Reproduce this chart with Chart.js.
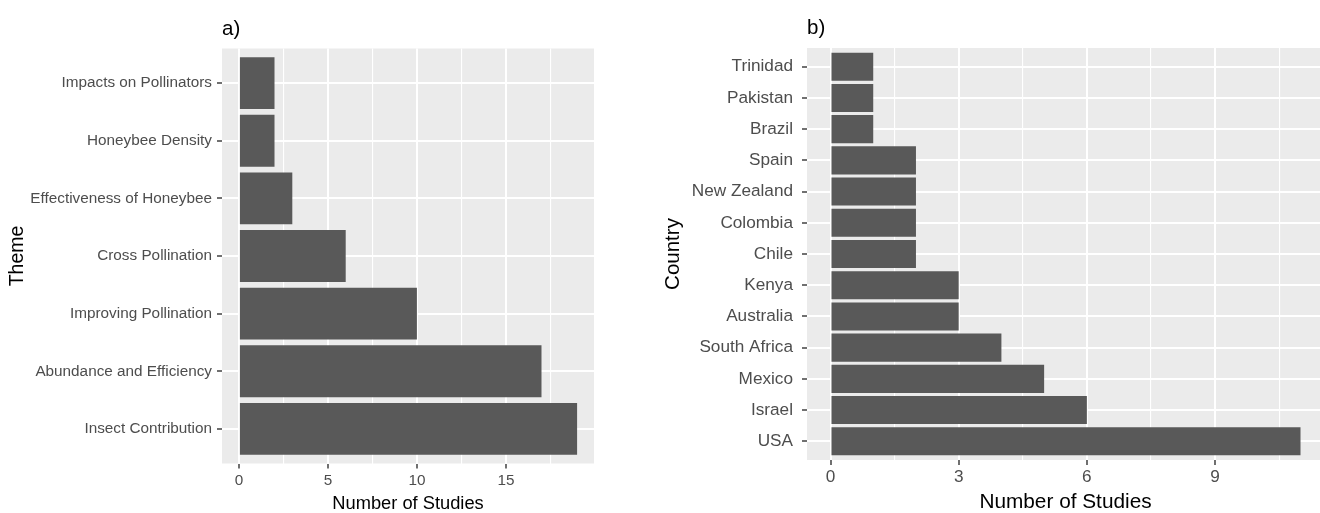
<!DOCTYPE html>
<html>
<head>
<meta charset="utf-8">
<script src="https://cdn.jsdelivr.net/npm/chart.js@4.4.1/dist/chart.umd.min.js"></script>
<style>
  html, body { margin: 0; padding: 0; background: #ffffff; overflow: hidden; width: 1320px; height: 513px; }
  .panel { position: absolute; top: 0; }
  #wrapA { left: 0; width: 600px; height: 513px; }
  #wrapB { left: 600px; width: 740px; height: 513px; }
</style>
</head>
<body>
<div id="wrapA" class="panel"><canvas id="chartA" width="600" height="513"></canvas></div>
<div id="wrapB" class="panel"><canvas id="chartB" width="740" height="513"></canvas></div>
<script>
// a) studies per research theme (top to bottom)
const themeLabels = [
  'Impacts on Pollinators',
  'Honeybee Density',
  'Effectiveness of Honeybee',
  'Cross Pollination',
  'Improving Pollination',
  'Abundance and Efficiency',
  'Insect Contribution'
];
const themeCounts = [2, 2, 3, 6, 10, 17, 19];
const themeGridValues = [0, 2.5, 5, 7.5, 10, 12.5, 15, 17.5];
const themeLabelStep = 5;

// b) studies per country (top to bottom)
const countryLabels = [
  'Trinidad', 'Pakistan', 'Brazil', 'Spain', 'New Zealand', 'Colombia', 'Chile',
  'Kenya', 'Australia', 'South Africa', 'Mexico', 'Israel', 'USA'
];
const countryCounts = [1, 1, 1, 2, 2, 2, 2, 3, 3, 4, 5, 6, 11];
const countryGridValues = [0, 1.5, 3, 4.5, 6, 7.5, 9, 10.5];
const countryLabelStep = 3;

const FONT = "'Liberation Sans', Arial, sans-serif";
const PANEL_BG = '#EBEBEB';
const BAR_FILL = '#595959';
const TICK_TEXT = '#4D4D4D';
const TICK_MARK = '#333333';

// grey panel background behind the grid
const panelBackground = {
  id: 'panelBackground',
  beforeDraw(chart) {
    const { ctx, chartArea: a } = chart;
    ctx.save();
    ctx.fillStyle = PANEL_BG;
    ctx.fillRect(a.left, a.top, a.right - a.left, a.bottom - a.top);
    ctx.restore();
  }
};

// panel tag ("a)", "b)") drawn above the top-left corner of the plot area
const panelTag = {
  id: 'panelTag',
  afterDraw(chart, args, opts) {
    const { ctx, chartArea: a } = chart;
    ctx.save();
    ctx.font = opts.size + 'px ' + FONT;
    ctx.fillStyle = '#000000';
    ctx.textBaseline = 'alphabetic';
    ctx.textAlign = 'left';
    ctx.fillText(opts.text, a.left, a.top - opts.gap);
    ctx.restore();
  }
};

function makePanel(canvasId, p) {
  const maxVal = Math.max(...p.values);
  const points = p.values.map((v, i) => ({ x: v, y: i }));
  return new Chart(document.getElementById(canvasId), {
    type: 'bar',
    data: {
      datasets: [{
        data: points,
        backgroundColor: BAR_FILL,
        borderWidth: 0,
        categoryPercentage: 1,
        barPercentage: 0.9
      }]
    },
    plugins: [panelBackground, panelTag],
    options: {
      indexAxis: 'y',
      responsive: false,
      animation: false,
      events: [],
      layout: { padding: { top: p.top, right: p.rightPad, bottom: 0, left: 0 } },
      plugins: {
        legend: { display: false },
        tooltip: { enabled: false },
        panelTag: { text: p.tag, size: p.tagSize, gap: p.tagGap }
      },
      scales: {
        x: {
          type: 'linear',
          offset: false,
          min: -0.05 * maxVal,
          max: 1.05 * maxVal,
          afterBuildTicks: s => { s.ticks = p.gridValues.map(v => ({ value: v })); },
          afterFit: s => { s.height = p.xAxisHeight; },
          border: { display: false },
          grid: {
            offset: false,
            color: '#FFFFFF',
            lineWidth: c => (c.tick && c.tick.value % p.labelStep === 0 ? 2 : 1.1),
            tickColor: c => (c.tick && c.tick.value % p.labelStep === 0 ? TICK_MARK : 'rgba(0,0,0,0)'),
            tickWidth: 1.4,
            tickLength: 5
          },
          ticks: {
            autoSkip: false,
            maxRotation: 0,
            minRotation: 0,
            padding: p.xTickPad,
            color: TICK_TEXT,
            font: { family: FONT, size: p.tickSize },
            callback: v => (v % p.labelStep === 0 ? String(v) : '')
          },
          title: {
            display: true,
            text: 'Number of Studies',
            color: '#000000',
            font: { family: FONT, size: p.xTitleSize },
            padding: { top: 0, bottom: -2 }
          }
        },
        y: {
          type: 'linear',
          offset: false,
          reverse: true,
          min: -0.6,
          max: p.labels.length - 1 + 0.6,
          afterBuildTicks: s => { s.ticks = p.labels.map((_, i) => ({ value: i })); },
          afterFit: s => { s.width = p.yAxisWidth; },
          border: { display: false },
          grid: {
            offset: false,
            color: '#FFFFFF',
            lineWidth: 2,
            tickColor: TICK_MARK,
            tickWidth: 1.4,
            tickLength: 5
          },
          ticks: {
            autoSkip: false,
            padding: p.yTickPad,
            color: TICK_TEXT,
            font: { family: FONT, size: p.tickSize },
            callback: v => p.labels[v]
          },
          title: {
            display: true,
            text: p.yTitle,
            color: '#000000',
            font: { family: FONT, size: p.yTitleSize },
            padding: { top: p.yTitlePad, bottom: 0 }
          }
        }
      }
    }
  });
}

makePanel('chartA', {
  labels: themeLabels,
  values: themeCounts,
  gridValues: themeGridValues,
  labelStep: themeLabelStep,
  tag: 'a)', tagSize: 20.5, tagGap: 13.5,
  yTitle: 'Theme',
  top: 48.5, rightPad: 6, yAxisWidth: 222, xAxisHeight: 49.5,
  tickSize: 15.3, xTitleSize: 18.3, yTitleSize: 19.5, yTitlePad: 6,
  xTickPad: 3, yTickPad: 5
});

makePanel('chartB', {
  labels: countryLabels,
  values: countryCounts,
  gridValues: countryGridValues,
  labelStep: countryLabelStep,
  tag: 'b)', tagSize: 20.5, tagGap: 14,
  yTitle: 'Country',
  top: 48, rightPad: 16, yAxisWidth: 207, xAxisHeight: 53,
  tickSize: 17.2, xTitleSize: 20.8, yTitleSize: 20.5, yTitlePad: 61,
  xTickPad: 2, yTickPad: 9
});
</script>
</body>
</html>
